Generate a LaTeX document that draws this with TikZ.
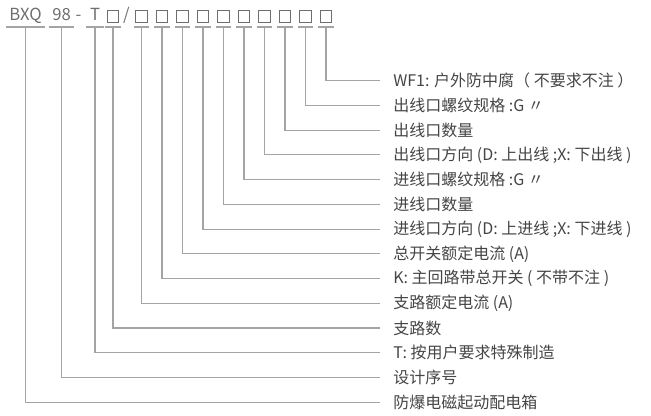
\documentclass[tikz,border=0pt]{standalone}
\usepackage{fontspec}
\setmainfont{Noto Sans CJK SC}
\definecolor{txtgray}{HTML}{454545}
\definecolor{codegray}{HTML}{6E6E6E}
\definecolor{linegray}{HTML}{A4A4A4}
\begin{document}
\begin{tikzpicture}[
    x=0.75pt, y=-0.75pt,
    every node/.style={inner sep=0pt, text=txtgray},
    code/.style={anchor=base, inner xsep=1.5pt, font=\fontsize{12.5}{14}\selectfont, text=codegray},
    slot/.style={draw=codegray, line width=0.8pt, minimum size=8.6pt},
    desc/.style={anchor=west, inner xsep=9.75pt, font=\fontsize{12}{14}\selectfont},
    lead/.style={draw=linegray, line width=0.8pt}
]
\useasboundingbox (0,0) rectangle (651,415);
\coordinate (ul) at (0,27);

% model code
\node[code] (bxq) at (25.5,20.5) {BXQ};
\node[code] (n98) at (61.5,20.5) {98};
\node[code] (dash) at (78.5,20.5) {-};
\node[code] (t) at (95,20.5) {T};
\node[slot] (s0) at (113,16.3) {};
\node[code] (slash) at (126.5,20.5) {/};
\node[slot] (s1) at (141.5,16.3) {};
\node[slot] (s2) at (162,16.3) {};
\node[slot] (s3) at (182.5,16.3) {};
\node[slot] (s4) at (203,16.3) {};
\node[slot] (s5) at (223.5,16.3) {};
\node[slot] (s6) at (244,16.3) {};
\node[slot] (s7) at (264.5,16.3) {};
\node[slot] (s8) at (285,16.3) {};
\node[slot] (s9) at (305.5,16.3) {};
\node[slot] (s10) at (326,16.3) {};

% descriptions
\node[desc] (wf) at (380,80.7) {WF1: 户外防中腐（ 不要求不注 ）};
\node[desc] (outg) at (380,105.4) {出线口螺纹规格 :G 〃};
\node[desc] (outn) at (380,130.2) {出线口数量};
\node[desc] (outd) at (380,154.9) {出线口方向 (D: 上出线 ;X: 下出线 )};
\node[desc] (ing) at (380,179.6) {进线口螺纹规格 :G 〃};
\node[desc] (inn) at (380,204.4) {进线口数量};
\node[desc] (ind) at (380,229.1) {进线口方向 (D: 上进线 ;X: 下进线 )};
\node[desc] (main) at (380,253.8) {总开关额定电流 (A)};
\node[desc] (k) at (380,278.5) {K: 主回路带总开关 ( 不带不注 )};
\node[desc] (brc) at (380,303.3) {支路额定电流 (A)};
\node[desc] (brn) at (380,328.0) {支路数};
\node[desc] (spec) at (380,352.7) {T: 按用户要求特殊制造};
\node[desc] (seq) at (380,377.5) {设计序号};
\node[desc] (box) at (380,402.2) {防爆电磁起动配电箱};

% underlines and leaders
\foreach \a/\b in {bxq/box, n98/seq, t/spec, s0/brn, s1/brc, s2/k, s3/main, s4/ind,
                   s5/inn, s6/ing, s7/outd, s8/outn, s9/outg, s10/wf} {
    \draw[lead] ([xshift=-1pt]\a.west |- ul) -- ([xshift=1pt]\a.east |- ul);
    \draw[lead] (\a |- ul) |- (\b.west);
}
\end{tikzpicture}
\end{document}
